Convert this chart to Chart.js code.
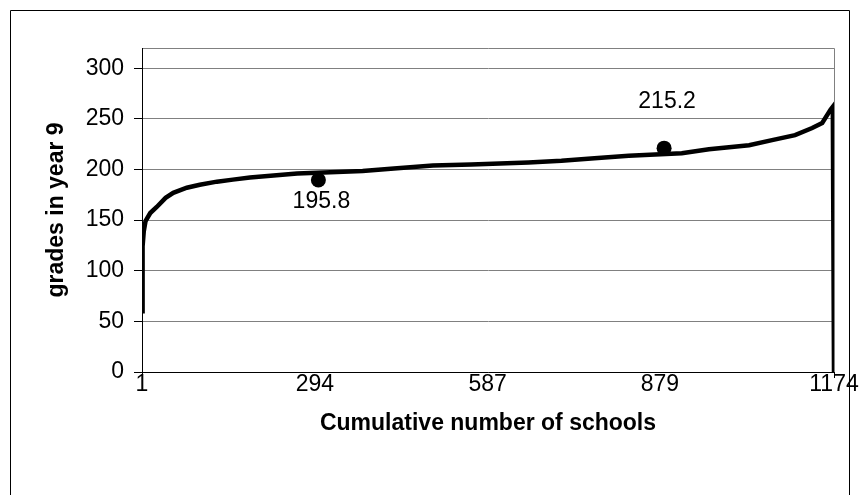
<!DOCTYPE html>
<html>
<head>
<meta charset="utf-8">
<script src="https://cdn.jsdelivr.net/npm/chart.js@4/dist/chart.umd.min.js"></script>
<style>
  html, body { margin: 0; padding: 0; background: #fff; }
  #wrap { width: 860px; height: 495px; }
</style>
</head>
<body>
<div id="wrap"><canvas id="chart" width="860" height="495"></canvas></div>
<script>
// schools sorted by grade (rank -> grade)
const ranks  = [1, 2, 4, 7, 15, 26, 41, 54, 77, 99, 128, 155, 184, 224, 264, 309, 375, 428, 494, 559, 656, 712, 768, 826, 916, 962, 1030, 1069, 1108, 1137, 1154, 1168, 1172, 1174];
const grades = [60, 124, 139, 149, 157, 163, 172, 177, 182, 185, 188, 190, 192, 194, 196, 197, 198.5, 201, 204, 205, 207, 208.6, 211, 213.5, 216, 220, 224, 229, 234, 241, 246, 259, 262, 0];

// the two marked points and their labels
const markX = [300, 886];
const markY = [189.6, 221.1];
const markLabels = ['195.8', '215.2'];

const xTicks = [1, 294, 587, 879, 1174];
const yTicks = [0, 50, 100, 150, 200, 250, 300];

const FONT = 'Liberation Sans, Arial, sans-serif';

const frame = {
  id: 'frame',
  beforeDraw(chart) {
    const ctx = chart.ctx;
    ctx.save();
    ctx.strokeStyle = '#000';
    ctx.lineWidth = 1;
    ctx.beginPath();
    ctx.moveTo(10.5, 495); ctx.lineTo(10.5, 10.5); ctx.lineTo(849.5, 10.5); ctx.lineTo(849.5, 495);
    ctx.stroke();
    const a = chart.chartArea;
    ctx.strokeStyle = '#808080';
    ctx.beginPath();
    ctx.moveTo(a.left, Math.round(a.top) + 0.5); ctx.lineTo(Math.round(a.right) + 0.5, Math.round(a.top) + 0.5);
    ctx.lineTo(Math.round(a.right) + 0.5, a.bottom);
    ctx.stroke();
    ctx.restore();
  },
  afterDatasetsDraw(chart) {
    const meta = chart.getDatasetMeta(1);
    const ctx = chart.ctx;
    const offs = [22, -46];
    ctx.save();
    ctx.fillStyle = '#000';
    ctx.font = '23px ' + FONT;
    ctx.textAlign = 'center';
    ctx.textBaseline = 'middle';
    meta.data.forEach((pt, i) => {
      ctx.fillText(markLabels[i], pt.x + 3, pt.y + offs[i]);
    });
    ctx.restore();
  }
};

new Chart(document.getElementById('chart'), {
  type: 'line',
  data: {
    datasets: [
      {
        label: 'grades',
        data: ranks.map((r, i) => ({ x: r, y: grades[i] })),
        borderColor: '#000', borderWidth: 4.5, pointRadius: 0, tension: 0, fill: false
      },
      {
        label: 'marks',
        data: markX.map((r, i) => ({ x: r, y: markY[i] })),
        showLine: false, pointRadius: 7.5, pointBackgroundColor: '#000', pointBorderWidth: 0
      }
    ]
  },
  options: {
    responsive: false,
    animation: false,
    layout: { padding: { left: 10, top: 48, right: 26, bottom: 0 } },
    plugins: { legend: { display: false }, tooltip: { enabled: false } },
    scales: {
      x: {
        type: 'linear', min: 1, max: 1174,
        afterBuildTicks: (s) => { s.ticks = xTicks.map(v => ({ value: v })); },
        afterFit: (s) => { s.height = 123; },
        grid: { drawOnChartArea: false, tickLength: 6, tickColor: (c) => (c.index === 0 || c.index === 4) ? '#000' : 'rgba(0,0,0,0)' },
        border: { color: '#000', width: 1 },
        ticks: { color: '#000', font: { family: FONT, size: 23 }, padding: -7, maxRotation: 0, autoSkip: false, callback: (v) => String(v) },
        title: { display: true, text: 'Cumulative number of schools', color: '#000', font: { family: FONT, size: 23, weight: 'bold' }, padding: { top: 0, bottom: 58 } }
      },
      y: {
        min: 0, max: 320,
        afterBuildTicks: (s) => { s.ticks = yTicks.map(v => ({ value: v })); },
        afterFit: (s) => { s.width = 132; },
        grid: { color: '#808080', tickColor: '#000', tickLength: 8 },
        border: { color: '#000', width: 1 },
        ticks: { color: '#000', font: { family: FONT, size: 23 }, padding: 10 },
        title: { display: true, text: 'grades in year 9', color: '#000', font: { family: FONT, size: 23, weight: 'bold' }, padding: { top: 33, bottom: 0 } }
      }
    }
  },
  plugins: [frame]
});
</script>
</body>
</html>
